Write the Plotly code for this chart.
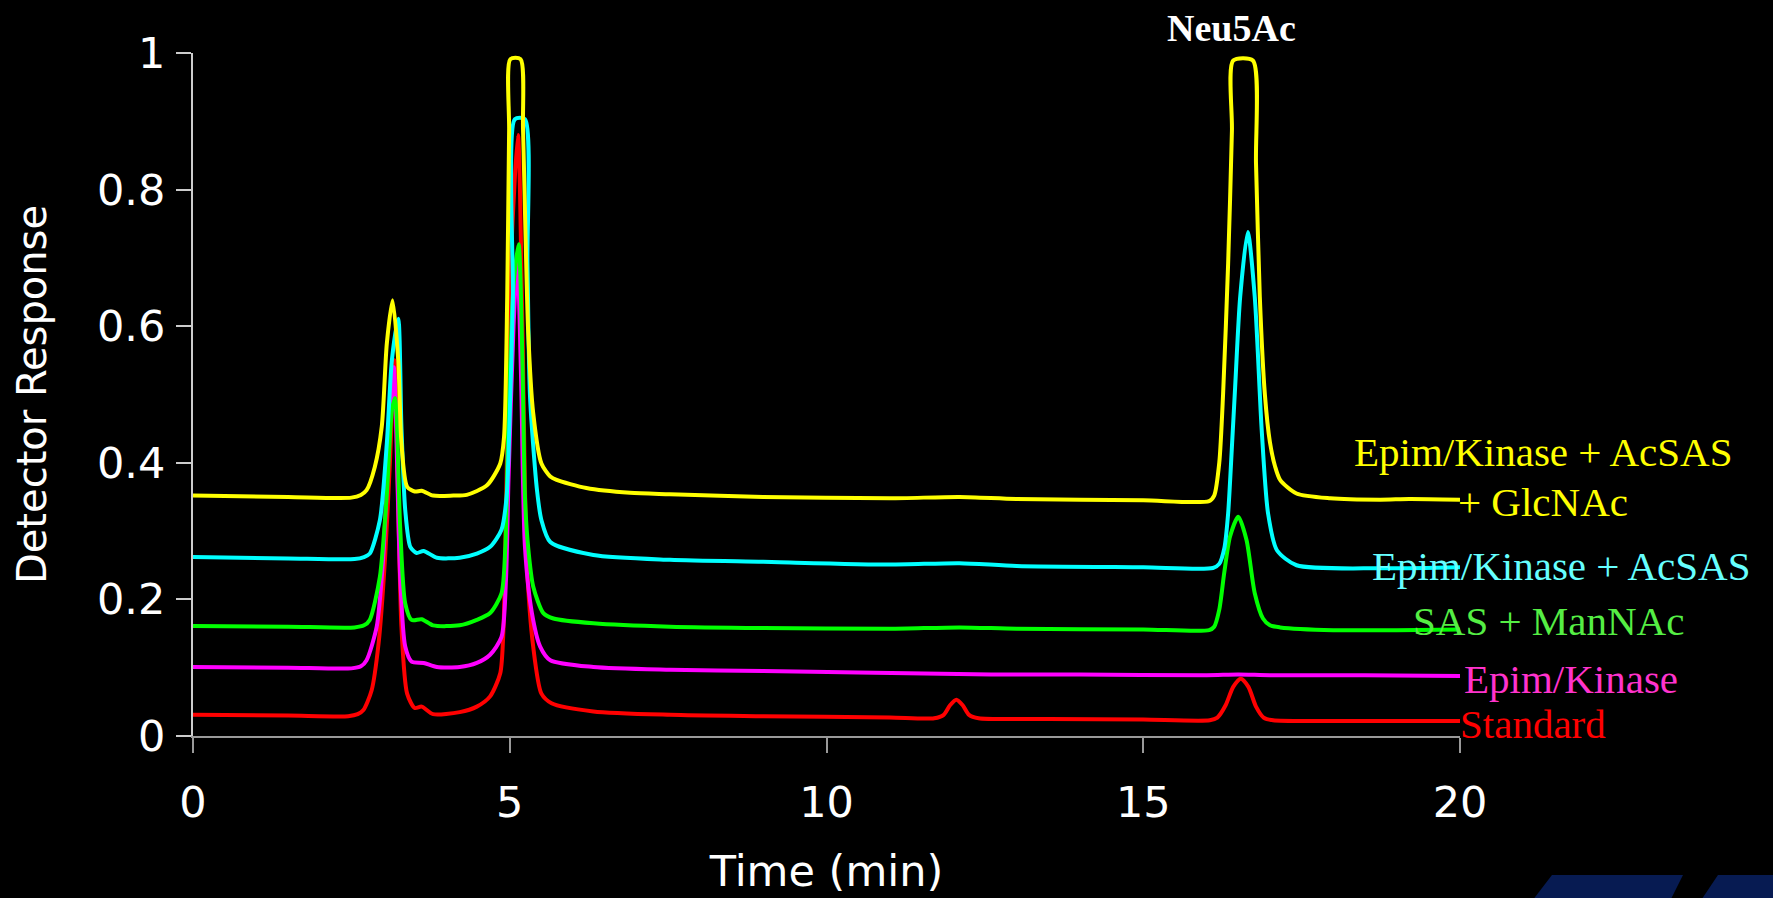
import plotly.graph_objects as go

# retention time (min) / detector response
std_x = [0, 1.5, 2.45, 2.6, 2.69, 2.82, 2.93, 3.03, 3.11, 3.18, 3.29, 3.38, 3.5, 3.61, 3.79, 4.21,
         4.48, 4.69, 4.85, 4.9, 4.94, 5.02, 5.13, 5.2, 5.27, 5.37, 5.5, 5.66, 6.32, 7.53, 9.0,
         11.0, 11.7, 11.85, 11.95, 12.05, 12.15, 12.25, 12.4, 13.5, 15.0, 16.05, 16.17, 16.3,
         16.42, 16.54, 16.66, 16.78, 16.9, 17.05, 18.0, 20.0]
std_y = [0.031, 0.030, 0.029, 0.032, 0.038, 0.067, 0.136, 0.258, 0.404, 0.55, 0.160, 0.062, 0.041,
         0.043, 0.032, 0.035, 0.043, 0.058, 0.092, 0.155, 0.326, 0.70, 0.88, 0.60, 0.253, 0.131,
         0.062, 0.048, 0.036, 0.031, 0.029, 0.027, 0.026, 0.031, 0.045, 0.053, 0.045, 0.031,
         0.026, 0.025, 0.024, 0.023, 0.027, 0.045, 0.072, 0.084, 0.072, 0.043, 0.027, 0.023,
         0.022, 0.022]

epim_x = [0, 1.5, 2.5, 2.65, 2.74, 2.9, 3.0, 3.08, 3.17, 3.27, 3.35, 3.45, 3.64, 3.85, 4.21, 4.48,
          4.69, 4.87, 4.94, 4.98, 5.06, 5.12, 5.18, 5.24, 5.35, 5.48, 5.64, 6.32, 7.53, 9.0, 10.5,
          12.6, 14.0, 16.0, 16.5, 17.0, 18.5, 20.0]
epim_y = [0.101, 0.100, 0.099, 0.102, 0.111, 0.160, 0.258, 0.404, 0.54, 0.233, 0.131, 0.109, 0.107,
          0.101, 0.101, 0.107, 0.119, 0.145, 0.228, 0.375, 0.60, 0.70, 0.52, 0.277, 0.180, 0.131,
          0.111, 0.101, 0.097, 0.095, 0.093, 0.090, 0.090, 0.089, 0.090, 0.089, 0.089, 0.088]

sas_x = [0, 1.5, 2.55, 2.7, 2.79, 2.95, 3.06, 3.14, 3.19, 3.27, 3.35, 3.45, 3.61, 3.79, 4.21, 4.48,
         4.69, 4.87, 4.93, 4.98, 5.06, 5.14, 5.2, 5.24, 5.29, 5.37, 5.53, 5.69, 6.32, 7.53, 9.0,
         11.0, 12.1, 13.0, 15.0, 16.04, 16.12, 16.2, 16.28, 16.37, 16.5, 16.63, 16.76, 16.89,
         17.0, 17.16, 18.0, 19.0, 20.0]
sas_y = [0.161, 0.160, 0.159, 0.162, 0.170, 0.233, 0.355, 0.477, 0.495, 0.306, 0.194, 0.170, 0.171,
         0.162, 0.162, 0.170, 0.180, 0.209, 0.277, 0.472, 0.66, 0.72, 0.55, 0.350, 0.277, 0.219,
         0.180, 0.172, 0.165, 0.160, 0.158, 0.157, 0.159, 0.157, 0.156, 0.155, 0.160, 0.185,
         0.240, 0.292, 0.321, 0.287, 0.209, 0.172, 0.162, 0.159, 0.155, 0.155, 0.156]

acsas_x = [0, 1.5, 2.55, 2.7, 2.79, 2.95, 3.06, 3.14, 3.24, 3.29, 3.35, 3.43, 3.53, 3.64, 3.85,
           4.21, 4.48, 4.69, 4.87, 4.95, 5.0, 5.05, 5.08, 5.24, 5.28, 5.32, 5.43, 5.5, 5.64, 6.32,
           7.53, 9.0, 11.0, 12.1, 13.0, 15.0, 16.1, 16.2, 16.28, 16.34, 16.4, 16.45, 16.53, 16.65,
           16.76, 16.87, 16.97, 17.11, 17.42, 18.74, 20.0]
acsas_y = [0.262, 0.260, 0.259, 0.262, 0.267, 0.316, 0.429, 0.551, 0.611, 0.453, 0.331, 0.277,
           0.268, 0.271, 0.261, 0.261, 0.267, 0.277, 0.302, 0.350, 0.472, 0.643, 0.903, 0.903,
           0.692, 0.497, 0.36, 0.316, 0.284, 0.265, 0.258, 0.255, 0.251, 0.253, 0.249, 0.247,
           0.246, 0.252, 0.275, 0.326, 0.424, 0.51, 0.643, 0.738, 0.643, 0.448, 0.326, 0.272,
           0.250, 0.2455, 0.247]

glc_x = [0, 1.5, 2.5, 2.65, 2.74, 2.87, 2.98, 3.06, 3.15, 3.24, 3.29, 3.38, 3.5, 3.61, 3.79, 4.11,
         4.32, 4.64, 4.85, 4.91, 4.96, 4.99, 5.01, 5.17, 5.21, 5.29, 5.37, 5.5, 5.64, 5.74, 6.21,
         6.9, 7.53, 9.0, 11.0, 12.1, 13.0, 15.0, 16.04, 16.12, 16.2, 16.26, 16.34, 16.4, 16.42,
         16.73, 16.78, 16.84, 16.92, 17.0, 17.08, 17.16, 17.42, 17.95, 18.74, 19.2, 20.0]
glc_y = [0.352, 0.350, 0.349, 0.353, 0.360, 0.394, 0.453, 0.575, 0.638, 0.550, 0.429, 0.365, 0.358,
         0.359, 0.352, 0.352, 0.353, 0.367, 0.399, 0.438, 0.643, 0.887, 0.991, 0.991, 0.887,
         0.594, 0.473, 0.399, 0.380, 0.375, 0.363, 0.356, 0.354, 0.350, 0.348, 0.350, 0.347,
         0.345, 0.344, 0.352, 0.40, 0.50, 0.692, 0.887, 0.989, 0.989, 0.838, 0.643, 0.50, 0.43,
         0.395, 0.375, 0.355, 0.348, 0.346, 0.347, 0.346]

series = [
    ("Standard", std_x, std_y, "#ff0000"),
    ("Epim/Kinase", epim_x, epim_y, "#ff00ff"),
    ("SAS + ManNAc", sas_x, sas_y, "#00ff00"),
    ("Epim/Kinase + AcSAS", acsas_x, acsas_y, "#00ffff"),
    ("Epim/Kinase + AcSAS + GlcNAc", glc_x, glc_y, "#ffff00"),
]

W, H = 1773, 898
L, R, T, B = 193, 1460, 53, 736  # plot area in px


def px(x, y):
    # pixel position -> paper coords
    return (x - L) / (R - L), (B - y) / (B - T)


fig = go.Figure()
for name, xs, ys, col in series:
    fig.add_trace(go.Scatter(x=xs, y=ys, mode="lines", name=name,
                             line=dict(color=col, width=4, shape="spline", smoothing=0.7)))

# labels at the right end of each trace
labels = [
    ("Epim/Kinase + AcSAS", 1543, 452, "#ffff00"),
    ("+ GlcNAc", 1543, 502, "#ffff00"),
    ("Epim/Kinase + AcSAS", 1561, 566, "#66ffff"),
    ("SAS + ManNAc", 1548, 621, "#55ee44"),
    ("Epim/Kinase", 1571, 679, "#ff33cc"),
    ("Standard", 1533, 724, "#ff0000"),
]
for txt, lx, ly, col in labels:
    ax, ay = px(lx, ly)
    fig.add_annotation(x=ax, y=ay, xref="paper", yref="paper", text=txt, showarrow=False,
                       xanchor="center", yanchor="middle",
                       font=dict(family="Liberation Serif, Times New Roman, serif", size=41, color=col))

nx, ny = px(1231, 28)
fig.add_annotation(x=nx, y=ny, xref="paper", yref="paper", text="<b>Neu5Ac</b>", showarrow=False,
                   xanchor="center", yanchor="middle",
                   font=dict(family="Liberation Serif, Times New Roman, serif", size=38, color="white"))

# navy stripes, bottom right corner
for pts in ([(1552, 875), (1683, 875), (1668, 905), (1529, 905)],
            [(1718, 875), (1780, 875), (1780, 905), (1698, 905)]):
    pp = [px(a, b) for a, b in pts]
    path = "M " + " L ".join(f"{a:.4f},{b:.4f}" for a, b in pp) + " Z"
    fig.add_shape(type="path", path=path, xref="paper", yref="paper",
                  fillcolor="#071b52", line=dict(width=0))

fig.update_layout(
    width=W, height=H,
    paper_bgcolor="black", plot_bgcolor="black",
    showlegend=False,
    margin=dict(l=L, r=W - R, t=T, b=H - B),
    font=dict(family="DejaVu Sans, Arial, sans-serif", color="white"),
)
fig.update_xaxes(
    range=[0, 20], tickvals=[0, 5, 10, 15, 20], showgrid=False, zeroline=False,
    showline=True, linecolor="#999999", linewidth=2,
    ticks="outside", ticklen=15, tickwidth=2, tickcolor="#999999",
    tickfont=dict(size=43, color="white"), ticklabelstandoff=12,
    title=dict(text="Time (min)", font=dict(size=43, color="white"), standoff=30),
)
fig.update_yaxes(
    range=[0, 1], tickvals=[0, 0.2, 0.4, 0.6, 0.8, 1],
    ticktext=["0", "0.2", "0.4", "0.6", "0.8", "1"], showgrid=False, zeroline=False,
    showline=True, linecolor="#cccccc", linewidth=2,
    ticks="outside", ticklen=15, tickwidth=2, tickcolor="#cccccc",
    tickfont=dict(size=43, color="white"), ticklabelstandoff=2,
    title=dict(text="Detector Response", font=dict(size=40, color="white"), standoff=38),
)

fig.write_html("out.html", config={"displayModeBar": False},
               post_script="document.body.style.margin='0';"
               "document.body.style.overflow='hidden';")
